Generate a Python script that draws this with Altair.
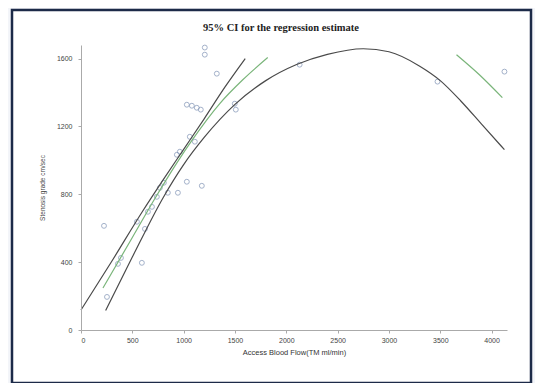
import altair as alt
import pandas as pd

# observed data points (Access Blood Flow, Stenosis grade)
pts_x = [224, 253, 360, 389, 593, 545, 623, 652, 691, 739, 768, 807, 846, 944,
         1031, 1177, 934, 963, 1060, 1109, 1031, 1080, 1128, 1167, 1206, 1206,
         1323, 1498, 1508, 2130, 3473, 4125]
pts_y = [614, 195, 390, 425, 396, 638, 596, 697, 726, 785, 838, 868, 809, 809,
         874, 850, 1033, 1051, 1139, 1110, 1328, 1322, 1310, 1299, 1665, 1623,
         1511, 1334, 1299, 1564, 1464, 1523]

# fitted regression curve (green), two visible pieces
fit_left_x = [214, 500, 720, 934, 1089, 1352, 1576, 1819]
fit_left_y = [248, 545, 775, 985, 1125, 1335, 1475, 1606]
fit_right_x = [3658, 3881, 4105]
fit_right_y = [1623, 1505, 1370]

# upper 95% CI
upper_x = [0, 300, 600, 800, 1000, 1200, 1400, 1600]
upper_y = [118, 405, 700, 885, 1065, 1245, 1430, 1600]

# lower 95% CI
lower_x = [240, 500, 800, 1000, 1200, 1500, 1800, 2100, 2400, 2750, 3000,
           3300, 3500, 3700, 3900, 4125]
lower_y = [115, 430, 780, 975, 1135, 1330, 1470, 1565, 1625, 1658, 1640,
           1555, 1470, 1350, 1215, 1063]

x_ticks = [0, 500, 1000, 1500, 2000, 2500, 3000, 3500, 4000]
y_ticks = [0, 400, 800, 1200, 1600]

title_text = "95% CI for the regression estimate"
x_title = "Access Blood Flow(TM ml/min)"
y_title = "Stenosis grade cm/sec"

pts = pd.DataFrame({"x": pts_x, "y": pts_y})
fit_l = pd.DataFrame({"x": fit_left_x, "y": fit_left_y})
fit_r = pd.DataFrame({"x": fit_right_x, "y": fit_right_y})
up = pd.DataFrame({"x": upper_x, "y": upper_y})
lo = pd.DataFrame({"x": lower_x, "y": lower_y})
one = pd.DataFrame({"t": [title_text]})

xs = alt.Scale(domain=[0, 4150], nice=False, zero=False)
ys = alt.Scale(domain=[0, 1680], nice=False, zero=False)

x_axis = alt.Axis(values=x_ticks, title=x_title, grid=False, zindex=1,
                  format="d",
                  labelFontSize=7, titleFontSize=7.5, titlePadding=5,
                  labelPadding=3, tickSize=3, labelColor="#444",
                  titleColor="#333", domainColor="#aaa", tickColor="#aaa",
                  labelFont="Liberation Sans", titleFont="Liberation Sans",
                  titleFontWeight="normal")
y_axis = alt.Axis(values=y_ticks, title=y_title, grid=False, zindex=1,
                  format="d",
                  labelFontSize=7, titleFontSize=6.5, labelPadding=6,
                  tickSize=3, labelColor="#444", titleColor="#444",
                  domainColor="#aaa", tickColor="#aaa", titleX=-36,
                  labelFont="Liberation Sans", titleFont="Liberation Sans",
                  titleFontWeight="normal")

frame = alt.Chart(one).mark_rect(fill="white", stroke="#1c2a48",
                                 strokeWidth=2.5).encode(
    x=alt.value(-69), x2=alt.value(450), y=alt.value(-35), y2=alt.value(338))

points = alt.Chart(pts).mark_point(shape="circle", filled=False, size=24,
                                   stroke="#7d91b4", strokeWidth=1).encode(
    x=alt.X("x:Q", scale=xs, axis=x_axis),
    y=alt.Y("y:Q", scale=ys, axis=y_axis))

def line(df, color, width=1.2):
    return alt.Chart(df).mark_line(color=color, strokeWidth=width,
                                   interpolate="monotone").encode(
        x=alt.X("x:Q", scale=xs), y=alt.Y("y:Q", scale=ys))

title = alt.Chart(one).mark_text(font="Liberation Serif", fontWeight="bold",
                                 fontSize=10.5, color="#222").encode(
    text="t:N", x=alt.value(200), y=alt.value(-17))

chart = alt.layer(
    frame, points,
    line(up, "#4a4a4a"), line(lo, "#4a4a4a"),
    line(fit_l, "#7ab57a"), line(fit_r, "#7ab57a"),
    title
).properties(
    width=426, height=285, autosize="none",
    padding={"left": 73, "top": 37, "right": 28, "bottom": 53},
    background="#f3f5f9"
).configure_view(stroke=None)

chart.save("out.html", embed_options={"renderer": "svg", "actions": False})
